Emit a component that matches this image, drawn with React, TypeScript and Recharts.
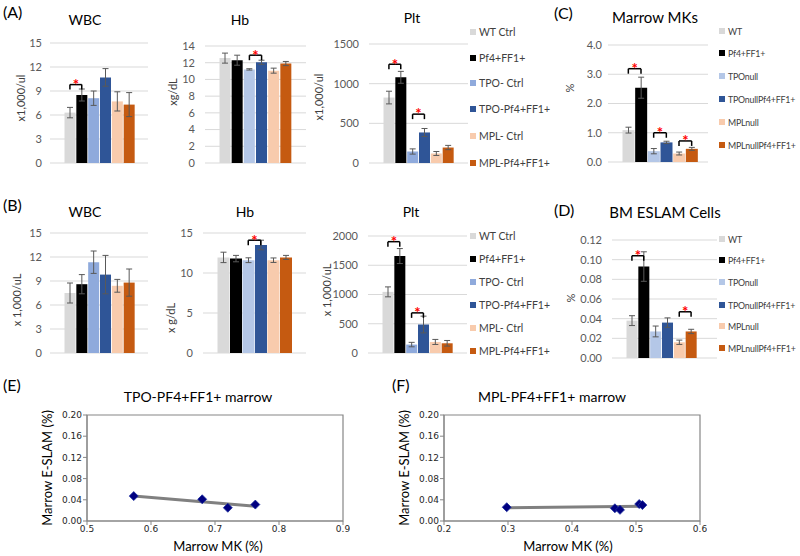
import React from "react";
import {
  BarChart,
  Bar,
  Cell,
  XAxis,
  YAxis,
  CartesianGrid,
  ErrorBar,
  ReferenceLine,
  ScatterChart,
  Scatter,
  ReferenceArea,
} from "recharts";

// groups
const groupsAB = ["WT Ctrl", "Pf4+FF1+", "TPO- Ctrl", "TPO-Pf4+FF1+", "MPL- Ctrl", "MPL-Pf4+FF1+"];
const groupsCD = ["WT", "Pf4+FF1+", "TPOnull", "TPOnullPf4+FF1+", "MPLnull", "MPLnullPf4+FF1+"];

// (A) peripheral blood
const wbcA = [6.3, 8.5, 8.1, 10.7, 7.7, 7.3];
const wbcAErr = [0.65, 0.75, 0.9, 1.1, 1.2, 1.5];
const hbA = [12.55, 12.3, 11.2, 12.05, 11.05, 11.9];
const hbAErr = [0.6, 0.6, 0.08, 0.25, 0.3, 0.25];
const pltA = [825, 1080, 145, 385, 120, 195];
const pltAErr = [80, 75, 33, 50, 25, 27];

// (B)
const wbcB = [7.5, 8.6, 11.35, 9.8, 8.4, 8.8];
const wbcBErr = [1.25, 1.2, 1.4, 2.4, 0.8, 1.7];
const hbB = [11.95, 11.8, 11.6, 13.5, 11.6, 11.95];
const hbBErr = [0.65, 0.4, 0.3, 0.6, 0.28, 0.25];
const pltB = [1045, 1657, 144, 487, 189, 166];
const pltBErr = [85, 128, 38, 143, 43, 48];

// (C) marrow MKs, (D) BM ESLAM cells
const mkC = [1.09, 2.54, 0.37, 0.67, 0.29, 0.45];
const mkCErr = [0.1, 0.36, 0.09, 0.04, 0.05, 0.05];
const eslamD = [0.038, 0.093, 0.027, 0.036, 0.016, 0.027];
const eslamDErr = [0.005, 0.015, 0.0055, 0.0048, 0.0022, 0.0022];

// (E) / (F) scatter
const mkE = [0.573, 0.68, 0.72, 0.763];
const slamE = [0.047, 0.041, 0.025, 0.031];
const trendE = [
  { x: 0.573, y: 0.047 },
  { x: 0.763, y: 0.028 },
];
const mkF = [0.298, 0.467, 0.475, 0.505, 0.51];
const slamF = [0.026, 0.024, 0.021, 0.032, 0.03];
const trendF = [
  { x: 0.298, y: 0.025 },
  { x: 0.51, y: 0.028 },
];

const wbcTicks = [0, 3, 6, 9, 12, 15];
const hbATicks = [0, 2, 4, 6, 8, 10, 12, 14];
const hbBTicks = [0, 5, 10, 15];
const pltATicks = [0, 500, 1000, 1500];
const pltBTicks = [0, 500, 1000, 1500, 2000];
const mkTicks = [0, 1, 2, 3, 4];
const eslamTicks = [0, 0.02, 0.04, 0.06, 0.08, 0.1, 0.12];
const slamTicks = [0, 0.04, 0.08, 0.12, 0.16, 0.2];
const xTicksE = [0.5, 0.6, 0.7, 0.8, 0.9];
const xTicksF = [0.2, 0.3, 0.4, 0.5, 0.6];

const stdColors = ["#d9d9d9", "#000000", "#8faadc", "#2f5597", "#f8cbad", "#c55a11"];
const lightColors = ["#d9d9d9", "#000000", "#b4c7e7", "#2f5597", "#f8cbad", "#c55a11"];

const FONT = "Lato, 'Open Sans', sans-serif";

type Bracket = { from: number; to: number; y: number };

type BarSpec = {
  plot: [number, number, number, number];
  groups: string[];
  values: number[];
  errs: number[];
  colors: string[];
  max: number;
  ticks: number[];
  fmt?: (v: number) => string;
  padL: number;
  padR: number;
  gap: number;
  brackets: Bracket[];
};

function BarPanel({ spec }: { spec: BarSpec }) {
  const [l, t, r, b] = spec.plot;
  const mTop = 12;
  const mBottom = 10;
  const yw = 50;
  const w = r - l + yw + 2;
  const h = b - t + mTop + mBottom;
  const data = spec.values.map((v, i) => ({ name: spec.groups[i], v, e: spec.errs[i] }));
  const drop = (5 * spec.max) / (b - t);
  return (
    <div style={{ position: "absolute", left: l - yw, top: t - mTop }}>
      <BarChart
        width={w}
        height={h}
        data={data}
        margin={{ top: mTop, right: 2, bottom: mBottom, left: 0 }}
        barCategoryGap={0.5}
      >
        <CartesianGrid vertical={false} stroke="#d9d9d9" />
        <XAxis dataKey="name" hide padding={{ left: spec.padL, right: spec.padR }} />
        <YAxis
          width={yw}
          domain={[0, spec.max]}
          ticks={spec.ticks}
          interval={0}
          tickFormatter={spec.fmt}
          axisLine={false}
          tickLine={false}
          tickSize={0}
          tickMargin={spec.gap}
          tick={{ fontSize: 11, fill: "#595959", fontFamily: FONT }}
        />
        <Bar dataKey="v" isAnimationActive={false}>
          {data.map((d, i) => (
            <Cell key={d.name} fill={spec.colors[i]} />
          ))}
          <ErrorBar dataKey="e" width={3} stroke="#595959" strokeWidth={1} />
        </Bar>
        {spec.brackets.flatMap((br, k) => [
          <ReferenceLine
            key={`h${k}`}
            segment={[
              { x: spec.groups[br.from], y: br.y },
              { x: spec.groups[br.to], y: br.y },
            ]}
            stroke="#000"
            strokeWidth={1.5}
            label={{ value: "*", position: "center", fill: "#ff0000", fontSize: 15, fontWeight: 700 }}
          />,
          <ReferenceLine
            key={`l${k}`}
            segment={[
              { x: spec.groups[br.from], y: br.y },
              { x: spec.groups[br.from], y: br.y - drop },
            ]}
            stroke="#000"
            strokeWidth={1.5}
          />,
          <ReferenceLine
            key={`r${k}`}
            segment={[
              { x: spec.groups[br.to], y: br.y },
              { x: spec.groups[br.to], y: br.y - drop },
            ]}
            stroke="#000"
            strokeWidth={1.5}
          />,
        ])}
      </BarChart>
    </div>
  );
}

function Text({ x, y, children, size = 13, rotate = false, color = "#000" }: any) {
  return (
    <div
      style={{
        position: "absolute",
        left: x,
        top: y,
        transform: `translate(-50%, -50%)${rotate ? " rotate(-90deg)" : ""}`,
        fontSize: size,
        color,
        whiteSpace: "nowrap",
        lineHeight: 1,
      }}
    >
      {children}
    </div>
  );
}

function Letter({ x, y, children }: any) {
  return (
    <div style={{ position: "absolute", left: x, top: y, fontSize: 16, lineHeight: 1, color: "#000" }}>
      {children}
    </div>
  );
}

function LegendBox({ x, ys, labels, colors, size, spacing = 0 }: any) {
  return (
    <>
      {labels.map((lab: string, i: number) => (
        <div
          key={lab}
          style={{
            position: "absolute",
            left: x,
            top: ys[i] - 6,
            height: 12,
            display: "flex",
            alignItems: "center",
            fontSize: size,
            letterSpacing: spacing,
            color: "#404040",
            whiteSpace: "nowrap",
          }}
        >
          <span style={{ width: 6, height: 6, background: colors[i], marginRight: 3, display: "inline-block" }} />
          {lab}
        </div>
      ))}
    </>
  );
}

function Diamond(p: any) {
  const { cx, cy } = p;
  const s = 4.5;
  return (
    <polygon
      points={`${cx},${cy - s} ${cx + s},${cy} ${cx},${cy + s} ${cx - s},${cy}`}
      fill="#000080"
      stroke="#1c2f9e"
      strokeWidth={0.8}
    />
  );
}

function ScatterPanel({ left, xs, ys, trend, xDomain, xTicks }: any) {
  const data = xs.map((x: number, i: number) => ({ x, y: ys[i] }));
  return (
    <div style={{ position: "absolute", left, top: 405 }}>
      <ScatterChart width={350} height={132} margin={{ top: 10, right: 7, bottom: 2, left: 0 }}>
        <XAxis
          type="number"
          dataKey="x"
          domain={xDomain}
          ticks={xTicks}
          interval={0}
          height={14}
          tickFormatter={(v: number) => v.toFixed(1)}
          stroke="#868686"
          tickSize={4}
          tickMargin={1}
          tick={{ fontSize: 9, fill: "#262626", fontFamily: "DejaVu Sans" }}
        />
        <YAxis
          type="number"
          dataKey="y"
          domain={[0, 0.2]}
          ticks={slamTicks}
          interval={0}
          width={87}
          tickFormatter={(v: number) => v.toFixed(2)}
          stroke="#868686"
          tickSize={4}
          tickMargin={1}
          tick={{ fontSize: 9, fill: "#262626", fontFamily: "DejaVu Sans" }}
        />
        <ReferenceArea x1={xDomain[0]} x2={xDomain[1]} y1={0} y2={0.2} fill="none" stroke="#868686" strokeWidth={1.2} />
        <Scatter data={data} shape={Diamond} isAnimationActive={false} />
        <ReferenceLine segment={trend} stroke="#808080" strokeWidth={3} />
      </ScatterChart>
    </div>
  );
}

const specs: BarSpec[] = [
  { plot: [50, 43, 148, 163], groups: groupsAB, values: wbcA, errs: wbcAErr, colors: stdColors, max: 15, ticks: wbcTicks, padL: 14, padR: 13, gap: 8, brackets: [{ from: 0, to: 1, y: 9.8 }] },
  { plot: [205, 46, 306, 163], groups: groupsAB, values: hbA, errs: hbAErr, colors: lightColors, max: 14, ticks: hbATicks, padL: 14, padR: 14, gap: 10, brackets: [{ from: 2, to: 3, y: 12.9 }] },
  { plot: [369, 44, 468, 163], groups: groupsAB, values: pltA, errs: pltAErr, colors: stdColors, max: 1500, ticks: pltATicks, padL: 14, padR: 14, gap: 10, brackets: [{ from: 0, to: 1, y: 1245 }, { from: 2, to: 3, y: 616 }] },
  { plot: [608, 45, 708, 162], groups: groupsCD, values: mkC, errs: mkCErr, colors: lightColors, max: 4, ticks: mkTicks, fmt: (v) => v.toFixed(1), padL: 14, padR: 10, gap: 6, brackets: [{ from: 0, to: 1, y: 3.19 }, { from: 2, to: 3, y: 1.0 }, { from: 4, to: 5, y: 0.72 }] },
  { plot: [50, 233, 148, 353], groups: groupsAB, values: wbcB, errs: wbcBErr, colors: stdColors, max: 15, ticks: wbcTicks, padL: 14, padR: 13, gap: 8, brackets: [] },
  { plot: [203, 233, 306, 353], groups: groupsAB, values: hbB, errs: hbBErr, colors: lightColors, max: 15, ticks: hbBTicks, padL: 14, padR: 14, gap: 10, brackets: [{ from: 2, to: 3, y: 14.1 }] },
  { plot: [368, 236, 467, 353], groups: groupsAB, values: pltB, errs: pltBErr, colors: stdColors, max: 2000, ticks: pltBTicks, padL: 14, padR: 14, gap: 10, brackets: [{ from: 0, to: 1, y: 1903 }, { from: 2, to: 3, y: 686 }] },
  { plot: [612, 240, 717, 358], groups: groupsCD, values: eslamD, errs: eslamDErr, colors: lightColors, max: 0.12, ticks: eslamTicks, fmt: (v) => v.toFixed(2), padL: 14, padR: 20, gap: 10, brackets: [{ from: 0, to: 1, y: 0.104 }, { from: 4, to: 5, y: 0.047 }] },
];

export default function App() {
  return (
    <div style={{ position: "relative", width: 800, height: 556, background: "#fff", fontFamily: FONT, overflow: "hidden" }}>
      <style>{`body{margin:0}`}</style>
      {specs.map((s, i) => (
        <BarPanel key={i} spec={s} />
      ))}

      <Letter x={3} y={4}>(A)</Letter>
      <Letter x={3} y={197}>(B)</Letter>
      <Letter x={554} y={5}>(C)</Letter>
      <Letter x={554} y={202}>(D)</Letter>
      <Letter x={3} y={377}>(E)</Letter>
      <Letter x={392} y={377}>(F)</Letter>

      <Text x={85} y={20} size={14}>WBC</Text>
      <Text x={240} y={20} size={14}>Hb</Text>
      <Text x={412} y={18} size={14}>Plt</Text>
      <Text x={655} y={17} size={15}>Marrow MKs</Text>
      <Text x={85} y={212} size={14}>WBC</Text>
      <Text x={245} y={212} size={14}>Hb</Text>
      <Text x={411} y={212} size={14}>Plt</Text>
      <Text x={665} y={212} size={15}>BM ESLAM Cells</Text>

      <Text x={20} y={98} size={11} rotate color="#404040">x1,000/ul</Text>
      <Text x={172} y={92} size={11} rotate color="#404040">xg/dL</Text>
      <Text x={318} y={97} size={11} rotate color="#404040">x1,000/ul</Text>
      <Text x={569} y={88} size={11} rotate color="#404040">%</Text>
      <Text x={16} y={300} size={11} rotate color="#404040">x 1,000/uL</Text>
      <Text x={170} y={318} size={11} rotate color="#404040">x g/dL</Text>
      <Text x={326} y={290} size={11} rotate color="#404040">x 1,000/uL</Text>
      <Text x={570} y={298} size={11} rotate color="#404040">%</Text>

      <LegendBox x={470} ys={[32, 58, 83, 109, 136, 163]} labels={groupsAB} colors={stdColors} size={10.5} />
      <LegendBox x={470} ys={[236, 259, 282, 305, 328, 351]} labels={groupsAB} colors={stdColors} size={10.5} />
      <LegendBox x={719} ys={[31, 53, 76, 99, 122, 145]} labels={groupsCD} colors={lightColors} size={8.8} spacing={-0.2} />
      <LegendBox x={719} ys={[239, 260, 282, 305, 326, 348]} labels={groupsCD} colors={lightColors} size={8.8} spacing={-0.2} />

      <ScatterPanel left={0} xs={mkE} ys={slamE} trend={trendE} xDomain={[0.5, 0.9]} xTicks={xTicksE} />
      <ScatterPanel left={357} xs={mkF} ys={slamF} trend={trendF} xDomain={[0.2, 0.6]} xTicks={xTicksF} />

      <Text x={198} y={397} size={14}>TPO-PF4+FF1+ marrow</Text>
      <Text x={552} y={397} size={14}>MPL-PF4+FF1+ marrow</Text>
      <Text x={47} y={468} size={13} rotate>Marrow E-SLAM (%)</Text>
      <Text x={404} y={468} size={13} rotate>Marrow E-SLAM (%)</Text>
      <Text x={218} y={546} size={13}>Marrow MK (%)</Text>
      <Text x={568} y={546} size={13}>Marrow MK (%)</Text>
    </div>
  );
}
